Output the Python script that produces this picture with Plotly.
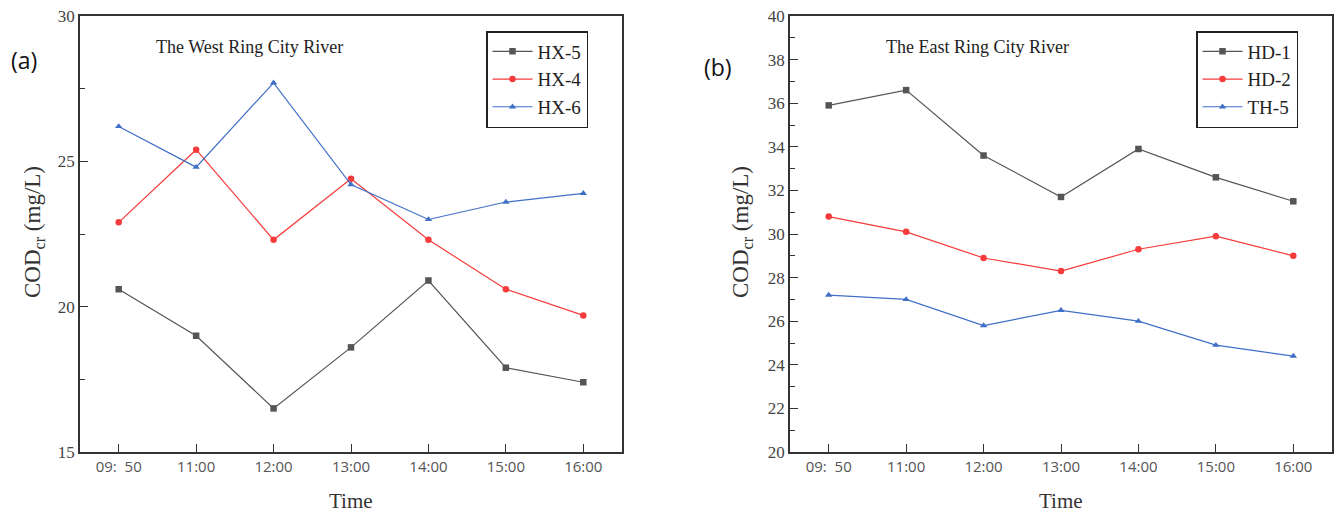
import plotly.graph_objects as go

times = ["09:\u00a0\u00a050", "11:00", "12:00", "13:00", "14:00", "15:00", "16:00"]

# Panel (a) - The West Ring City River
hx5 = [20.6, 19.0, 16.5, 18.6, 20.9, 17.9, 17.4]
hx4 = [22.9, 25.4, 22.3, 24.4, 22.3, 20.6, 19.7]
hx6 = [26.2, 24.8, 27.7, 24.2, 23.0, 23.6, 23.9]

# Panel (b) - The East Ring City River
hd1 = [35.9, 36.6, 33.6, 31.7, 33.9, 32.6, 31.5]
hd2 = [30.8, 30.1, 28.9, 28.3, 29.3, 29.9, 29.0]
th5 = [27.2, 27.0, 25.8, 26.5, 26.0, 24.9, 24.4]

GRAY = "#555555"
RED = "#f53b3b"
BLUE = "#3f6fc6"
SERIF = "Liberation Serif"

W, H = 1336, 518
def px(x):
    return x / W
def py(y):
    return 1 - y / H

xidx = list(range(len(times)))

fig = go.Figure()

def add(name, vals, color, symbol, xa, ya, legend):
    fig.add_trace(go.Scatter(
        x=xidx, y=vals, name=name, mode="lines+markers",
        line=dict(color=color, width=1.2),
        marker=dict(symbol=symbol, size=6.5, color=color),
        xaxis=xa, yaxis=ya, legend=legend,
    ))

add("HX-5", hx5, GRAY, "square", "x", "y", "legend")
add("HX-4", hx4, RED, "circle", "x", "y", "legend")
add("HX-6", hx6, BLUE, "triangle-up", "x", "y", "legend")
add("HD-1", hd1, GRAY, "square", "x2", "y2", "legend2")
add("HD-2", hd2, RED, "circle", "x2", "y2", "legend2")
add("TH-5", th5, BLUE, "triangle-up", "x2", "y2", "legend2")

xcommon = dict(
    range=[-0.5, 6.5], tickmode="array", tickvals=xidx, ticktext=times,
    showline=True, mirror=True, linecolor="#333333", linewidth=1.5,
    ticks="inside", ticklen=8, tickwidth=1.2, tickcolor="#333333",
    showgrid=False, zeroline=False, automargin=False,
    tickfont=dict(family="Open Sans", size=15, color="#555555"),
)
ycommon = dict(
    showline=True, mirror=True, linecolor="#333333", linewidth=1.5,
    ticks="inside", ticklen=8, tickwidth=1.2, tickcolor="#333333",
    showgrid=False, zeroline=False, automargin=False,
    tickfont=dict(family=SERIF, size=17, color="#444444"),
)

legend_common = dict(
    xanchor="left", yanchor="top",
    bordercolor="#222222", borderwidth=1.5, bgcolor="white",
    font=dict(family=SERIF, size=19, color="#222222"),
    itemwidth=40, tracegroupgap=0,
)

fig.update_layout(
    width=W, height=H,
    margin=dict(l=0, r=0, t=0, b=0, autoexpand=False),
    paper_bgcolor="white", plot_bgcolor="white",
    xaxis=dict(domain=[px(80), px(622)], anchor="y", **xcommon),
    yaxis=dict(domain=[py(452), py(16)], anchor="x", range=[15, 30],
               tickvals=[15, 20, 25, 30],
               minor=dict(ticks="inside", ticklen=5, dtick=2.5, tick0=15,
                          tickcolor="#333333", tickwidth=1.2),
               **ycommon),
    xaxis2=dict(domain=[px(790), px(1332)], anchor="y2", **xcommon),
    yaxis2=dict(domain=[py(452), py(16)], anchor="x2", range=[20, 40],
                tickvals=[20, 22, 24, 26, 28, 30, 32, 34, 36, 38, 40],
                minor=dict(ticks="inside", ticklen=5, dtick=1, tick0=20,
                           tickcolor="#333333", tickwidth=1.2),
                **ycommon),
    legend=dict(x=px(486), y=py(31), **legend_common),
    legend2=dict(x=px(1196), y=py(31), **legend_common),
    showlegend=True,
)

ann = []
# panel titles
ann.append(dict(text="The West Ring City River", x=px(249), y=py(47),
                font=dict(family=SERIF, size=18, color="#222222")))
ann.append(dict(text="The East Ring City River", x=px(977), y=py(47),
                font=dict(family=SERIF, size=18, color="#222222")))
# panel labels
ann.append(dict(text="(a)", x=px(24), y=py(60),
                font=dict(family="Open Sans", size=23, color="#111111")))
ann.append(dict(text="(b)", x=px(718), y=py(67),
                font=dict(family="Open Sans", size=23, color="#111111")))
# axis titles
ytitle = "COD<sub>cr</sub> (mg/L)"
ann.append(dict(text=ytitle, x=px(34), y=py(232), textangle=-90,
                font=dict(family=SERIF, size=23, color="#333333")))
ann.append(dict(text=ytitle, x=px(742), y=py(232), textangle=-90,
                font=dict(family=SERIF, size=23, color="#333333")))
ann.append(dict(text="Time", x=px(351), y=py(501),
                font=dict(family=SERIF, size=21, color="#333333")))
ann.append(dict(text="Time", x=px(1061), y=py(501),
                font=dict(family=SERIF, size=21, color="#333333")))

for a in ann:
    a.update(xref="paper", yref="paper", showarrow=False,
             xanchor="center", yanchor="middle")
fig.update_layout(annotations=ann)

fig.write_html("out.html")
